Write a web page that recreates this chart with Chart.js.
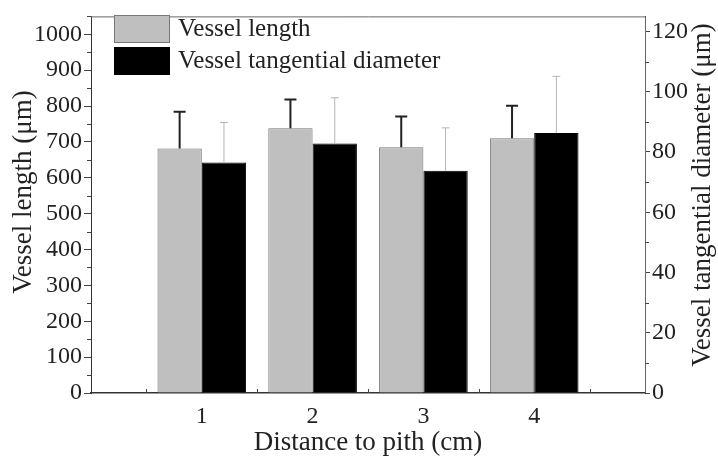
<!DOCTYPE html>
<html>
<head>
<meta charset="utf-8">
<script src="https://cdn.jsdelivr.net/npm/chart.js@4/dist/chart.umd.min.js"></script>
<style>
    html, body { margin: 0; padding: 0; background: #fff; }
    #wrap { width: 718px; height: 461px; }
</style>
</head>
<body>
<div id="wrap"><canvas id="vessel_plot"></canvas></div>
<script>
'use strict';

// Data
const distances = [1, 2, 3, 4];                 // Distance to pith (cm)
const vesselLength = [682, 738, 685, 710];      // µm, left axis
const vesselLengthErr = [102, 80, 86, 91];
const vesselDiameter = [76.5, 82.8, 73.8, 86.3]; // µm, right axis
const vesselDiameterErr = [13.3, 15.2, 14.2, 18.8];
const leftTicks = [0, 100, 200, 300, 400, 500, 600, 700, 800, 900, 1000];
const rightTicks = [0, 20, 40, 60, 80, 100, 120];

const FONT = 'Liberation Serif';
const TEXT = '#222';

// Error bars drawn from the bar top using the dataset's own y scale
const errorBars = {
    id: 'errorBars',
    afterDatasetsDraw(chart) {
        const ctx = chart.ctx;
        chart.data.datasets.forEach((ds, i) => {
            const meta = chart.getDatasetMeta(i);
            const yScale = chart.scales[meta.yAxisID];
            ctx.save();
            ctx.strokeStyle = ds.errColor;
            ctx.lineWidth = ds.errWidth;
            meta.data.forEach((bar, j) => {
                const top = yScale.getPixelForValue(ds.values[j] + ds.errors[j]);
                ctx.beginPath();
                ctx.moveTo(bar.x, bar.y);
                ctx.lineTo(bar.x, top);
                ctx.moveTo(bar.x - ds.capHalf, top);
                ctx.lineTo(bar.x + ds.capHalf, top);
                ctx.stroke();
            });
            ctx.restore();
        });
    }
};

// Frame, minor ticks, legend inside the plot, rotated axis titles
const decorations = {
    id: 'decorations',
    afterDraw(chart) {
        const ctx = chart.ctx;
        const a = chart.chartArea;
        const { x, yL, yR } = chart.scales;
        ctx.save();

        // top and right frame
        ctx.strokeStyle = '#666';
        ctx.lineWidth = 1;
        ctx.beginPath();
        ctx.moveTo(a.left, a.top + 0.5);
        ctx.lineTo(a.right + 0.5, a.top + 0.5);
        ctx.lineTo(a.right + 0.5, a.bottom);
        ctx.stroke();

        // minor ticks
        ctx.strokeStyle = '#444';
        ctx.beginPath();
        for (let v = 50; v <= 1050; v += 100) {
            const p = Math.round(yL.getPixelForValue(v)) + 0.5;
            ctx.moveTo(a.left - 4, p);
            ctx.lineTo(a.left, p);
        }
        for (let v = 10; v <= 125; v += 20) {
            const p = Math.round(yR.getPixelForValue(v)) + 0.5;
            ctx.moveTo(a.right, p);
            ctx.lineTo(a.right + 4, p);
        }
        for (let v = 0.5; v < 5; v += 1) {
            const p = Math.round(x.getPixelForValue(v)) + 0.5;
            ctx.moveTo(p, a.bottom);
            ctx.lineTo(p, a.bottom - 4);
        }
        ctx.stroke();

        // legend
        ctx.font = '25px ' + FONT;
        ctx.textBaseline = 'middle';
        ctx.textAlign = 'left';
        chart.data.datasets.forEach((ds, i) => {
            const top = 15 + i * 32;
            ctx.fillStyle = ds.backgroundColor;
            ctx.fillRect(114, top, 55, 27);
            ctx.strokeStyle = ds.borderColor;
            ctx.lineWidth = 1;
            ctx.strokeRect(114.5, top + 0.5, 55, 27);
            ctx.fillStyle = TEXT;
            ctx.fillText(ds.label, 178, top + 14);
        });

        // axis titles, both reading bottom-to-top
        ctx.font = '27px ' + FONT;
        ctx.textAlign = 'center';
        ctx.translate(24, 192);
        ctx.rotate(-Math.PI / 2);
        ctx.fillText('Vessel length (μm)', 0, 0);
        ctx.setTransform(1, 0, 0, 1, 0, 0);
        ctx.translate(703, 195);
        ctx.rotate(-Math.PI / 2);
        ctx.fillText('Vessel tangential diameter (μm)', 0, 0);
        ctx.restore();
    }
};

const chart = new Chart(document.getElementById('vessel_plot').getContext('2d'), {
    type: 'bar',
    data: {
        datasets: [{
            label: 'Vessel length',
            data: distances.map((d, i) => ({ x: d, y: vesselLength[i] })),
            values: vesselLength,
            errors: vesselLengthErr,
            errColor: '#222', errWidth: 2, capHalf: 6,
            yAxisID: 'yL',
            backgroundColor: '#bfbfbf',
            borderColor: '#777',
            borderWidth: 1,
            categoryPercentage: 0.8,
            barPercentage: 1.0
        }, {
            label: 'Vessel tangential diameter',
            data: distances.map((d, i) => ({ x: d, y: vesselDiameter[i] })),
            values: vesselDiameter,
            errors: vesselDiameterErr,
            errColor: '#b5b5b5', errWidth: 1, capHalf: 4,
            yAxisID: 'yR',
            backgroundColor: '#000',
            borderColor: '#000',
            borderWidth: 1,
            categoryPercentage: 0.8,
            barPercentage: 1.0
        }]
    },
    options: {
        responsive: true,
        maintainAspectRatio: false,
        animation: false,
        layout: { padding: { top: 8 } },
        plugins: {
            legend: { display: false },
            tooltip: { enabled: false }
        },
        scales: {
            x: {
                type: 'linear',
                offset: false,
                min: 0,
                max: 5,
                afterFit: s => { s.height = 68; },
                grid: { drawOnChartArea: false, drawTicks: false },
                border: { color: '#333', width: 1.5 },
                ticks: {
                    stepSize: 1,
                    padding: 9,
                    color: TEXT,
                    font: { family: FONT, size: 24 },
                    callback: v => (v >= 1 && v <= 4 ? String(v) : '')
                },
                title: {
                    display: true,
                    text: 'Distance to pith (cm)',
                    color: TEXT,
                    font: { family: FONT, size: 27 },
                    padding: { top: 0, bottom: 2 }
                }
            },
            yL: {
                position: 'left',
                min: 0,
                max: 1050,
                afterFit: s => { s.width = 91; },
                afterBuildTicks: s => { s.ticks = leftTicks.map(v => ({ value: v })); },
                grid: { drawOnChartArea: false, tickLength: 7, tickColor: '#444' },
                border: { color: '#333', width: 1 },
                ticks: {
                    padding: 2,
                    color: TEXT,
                    font: { family: FONT, size: 24 },
                    callback: v => String(v)
                }
            },
            yR: {
                position: 'right',
                min: 0,
                max: 125,
                afterFit: s => { s.width = 73; },
                afterBuildTicks: s => { s.ticks = rightTicks.map(v => ({ value: v })); },
                grid: { drawOnChartArea: false, tickLength: 5, tickColor: '#444' },
                border: { color: '#333', width: 1 },
                ticks: {
                    padding: 2,
                    color: TEXT,
                    font: { family: FONT, size: 24 },
                    callback: v => String(v)
                }
            }
        }
    },
    plugins: [errorBars, decorations]
});
</script>
</body>
</html>
